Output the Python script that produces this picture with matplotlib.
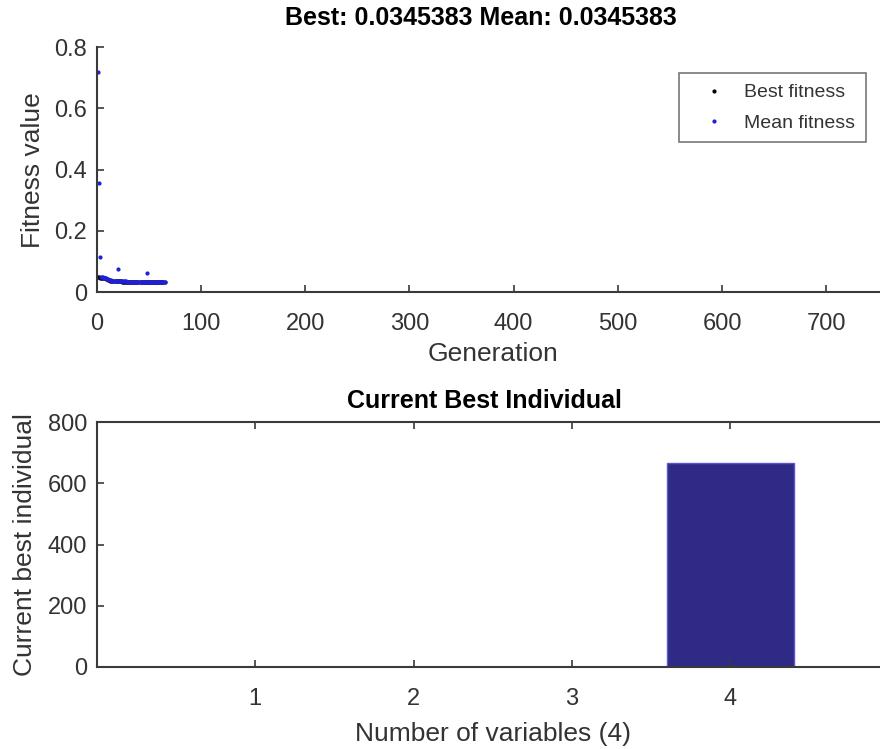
import matplotlib.pyplot as plt

plt.rcParams['font.family'] = ['Liberation Sans', 'DejaVu Sans']

# --------------------------
# Data
# --------------------------

generations = list(range(1, 66))

best_fitness = [
    0.0480, 0.0480, 0.0475, 0.0470, 0.0465, 0.0460, 0.0455, 0.0445, 0.0435, 0.0420,
    0.0405, 0.0390, 0.0375, 0.0365, 0.0358, 0.0352, 0.0350, 0.0349, 0.0348, 0.0348,
    0.0347, 0.0347, 0.0347, 0.0346, 0.0346, 0.0346, 0.0346, 0.0346, 0.0346, 0.0346,
    0.0346, 0.0346, 0.0346, 0.0346, 0.0346, 0.0346, 0.0346, 0.0346, 0.0346, 0.0346,
    0.0346, 0.0346, 0.0346, 0.0346, 0.0346, 0.0346, 0.0346, 0.0346, 0.0346, 0.0346,
    0.0346, 0.0346, 0.0346, 0.0346, 0.0346, 0.0346, 0.0345, 0.0345, 0.0345, 0.0345,
    0.0345, 0.0345, 0.0345, 0.0345, 0.0345383,
]

mean_fitness = [
    0.718, 0.356, 0.114, 0.050, 0.049, 0.048, 0.047, 0.046, 0.045, 0.044,
    0.042, 0.040, 0.039, 0.038, 0.037, 0.036, 0.036, 0.035, 0.035, 0.075,
    0.035, 0.035, 0.0348, 0.0348, 0.0347, 0.0347, 0.0347, 0.0347, 0.0346, 0.0346,
    0.0346, 0.0346, 0.0346, 0.0346, 0.0346, 0.0346, 0.0346, 0.0346, 0.0346, 0.0346,
    0.0346, 0.0346, 0.0346, 0.0346, 0.0346, 0.0346, 0.0346, 0.062, 0.0346, 0.0346,
    0.0346, 0.0346, 0.0346, 0.0346, 0.0346, 0.0346, 0.0345, 0.0345, 0.0345, 0.0345,
    0.0345, 0.0345, 0.0345, 0.0345, 0.0345383,
]

variables = [1, 2, 3, 4]
best_individual = [1.5, 0.8, 1.2, 665]

title_top = "Best: 0.0345383 Mean: 0.0345383"

# --------------------------
# Figure
# --------------------------

fig = plt.figure(figsize=(8.8, 7.49), dpi=100)
spine_col = '#3a3a3a'
text_col = '#333333'

# top panel: fitness per generation
ax1 = fig.add_axes([0.110, 0.610, 0.900, 0.327])
ax1.plot(generations, best_fitness, '.', color='black', markersize=4, label='Best fitness')
ax1.plot(generations, mean_fitness, '.', color='#1f1fd8', markersize=4, label='Mean fitness')
ax1.set_xlim(0, 760)
ax1.set_ylim(0, 0.8)
ax1.set_xticks([0, 100, 200, 300, 400, 500, 600, 700])
ax1.set_yticks([0, 0.2, 0.4, 0.6, 0.8])
ax1.set_yticklabels(['0', '0.2', '0.4', '0.6', '0.8'])
ax1.set_xlabel("Generation", fontsize=19, color=text_col)
ax1.set_ylabel("Fitness value", fontsize=19, color=text_col)
ax1.xaxis.set_label_coords(0.5, -0.205)
ax1.yaxis.set_label_coords(-0.066, 0.5)
ax1.set_title(title_top, fontsize=18, fontweight='bold', pad=16, x=0.485)
ax1.spines['top'].set_visible(False)
ax1.spines['right'].set_visible(False)
leg = ax1.legend(loc='upper right', bbox_to_anchor=(0.971, 0.894), fontsize=14,
                 fancybox=False, edgecolor='#555555', markerscale=1.0,
                 handlelength=2.5, handletextpad=0.3, borderpad=0.55,
                 labelspacing=0.65, borderaxespad=0)
leg.get_frame().set_linewidth(1.2)
for t in leg.get_texts():
    t.set_color(text_col)

# bottom panel: current best individual
ax2 = fig.add_axes([0.110, 0.1095, 0.900, 0.327])
ax2.bar(variables, best_individual, width=0.8, color='#2f2a86', edgecolor='#5a56d0', linewidth=1.0)
ax2.set_xlim(0, 5)
ax2.set_ylim(0, 800)
ax2.set_xticks(variables)
ax2.set_yticks([0, 200, 400, 600, 800])
ax2.set_xlabel("Number of variables (4)", fontsize=19, color=text_col)
ax2.set_ylabel("Current best individual", fontsize=19, color=text_col)
ax2.xaxis.set_label_coords(0.5, -0.225)
ax2.yaxis.set_label_coords(-0.076, 0.5)
ax2.set_title("Current Best Individual", fontsize=18, fontweight='bold', pad=10, x=0.49)

for ax in (ax1, ax2):
    for s in ax.spines.values():
        s.set_color(spine_col)
        s.set_linewidth(1.5)
    ax.tick_params(direction='in', length=5, width=1.2, colors=spine_col,
                   labelsize=17, labelcolor=text_col)
    ax.tick_params(axis='x', pad=15)
    ax.tick_params(axis='y', pad=7)
ax2.tick_params(top=True, right=True)

plt.savefig("out.png", dpi=100)
